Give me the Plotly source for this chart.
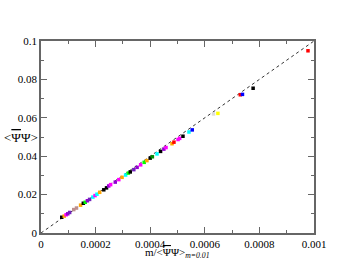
import plotly.graph_objects as go

# data (x in units of 1e-4, y in units of 1e-2)
x_e4 = [0.76, 0.85, 0.92, 0.98, 1.05, 1.20, 1.30, 1.45, 1.55, 1.62, 1.70, 1.78, 1.90, 1.98,
        2.05, 2.15, 2.30, 2.40, 2.48, 2.55, 2.72, 2.85, 2.97, 3.10, 3.20, 3.27, 3.40, 3.52,
        3.65, 3.78, 3.88, 4.00, 4.08, 4.25, 4.38, 4.50, 4.58, 4.80, 4.87, 5.02, 5.08, 5.20,
        5.42, 5.54, 6.32, 6.48, 7.30, 7.38, 7.77, 9.78]
y_e2 = [0.82, 0.88, 0.95, 1.00, 1.07, 1.22, 1.30, 1.45, 1.55, 1.60, 1.68, 1.75, 1.87, 1.95,
        2.02, 2.12, 2.25, 2.35, 2.45, 2.52, 2.65, 2.78, 2.90, 3.02, 3.12, 3.18, 3.30, 3.42,
        3.55, 3.68, 3.77, 3.90, 3.97, 4.12, 4.25, 4.37, 4.45, 4.65, 4.73, 4.87, 4.93, 5.04,
        5.26, 5.37, 6.20, 6.23, 7.20, 7.22, 7.54, 9.49]
point_colors = ["black", "orange", "magenta", "violet", "indigo", "brown", "brown", "orange",
                "black", "green", "violet", "indigo", "cyan", "magenta", "cyan", "orange",
                "black", "black", "violet", "magenta", "violet", "magenta", "orange", "cyan",
                "green", "black", "indigo", "violet", "magenta", "green", "orange", "black",
                "green4", "cyan", "black", "violet", "magenta", "orange", "red", "magenta",
                "magenta", "black", "cyan", "blue", "grey", "yellow", "red", "blue", "black", "red"]
ref_line_x = [0.0, 0.001]
ref_line_y = [0.0, 0.1]

palette = {"black": "#000000", "red": "#ff0000", "green": "#00ff00", "blue": "#0000ff",
           "yellow": "#ffff00", "brown": "#bc8f8f", "grey": "#dcdcdc", "violet": "#9400d3",
           "cyan": "#00ffff", "magenta": "#ff00ff", "orange": "#ffa500", "indigo": "#7221bc",
           "green4": "#008b00"}

xs = [v * 1e-4 for v in x_e4]
ys = [v * 1e-2 for v in y_e2]
cols = [palette[c] for c in point_colors]

fig = go.Figure()
fig.add_trace(go.Scatter(x=ref_line_x, y=ref_line_y, mode="lines",
                         line=dict(color="#333333", width=1, dash="dot"),
                         hoverinfo="skip", showlegend=False))
fig.add_trace(go.Scatter(x=xs, y=ys, mode="markers",
                         marker=dict(symbol="square", size=3.5, color=cols, line=dict(width=0)),
                         showlegend=False))

serif = "Liberation Serif, Times New Roman, serif"
font = dict(family=serif, size=11, color="#000000")
axis_common = dict(showline=True, linecolor="#666666", linewidth=1.5, mirror="ticks",
                   ticks="inside", ticklen=6, tickwidth=1, tickcolor="#666666",
                   showgrid=False, zeroline=False, tickfont=font, automargin=False)

psi_bar = "<span style='text-decoration:overline'>Ψ</span>Ψ"

fig.update_xaxes(range=[0, 0.001], tickvals=[0, 0.0002, 0.0004, 0.0006, 0.0008, 0.001],
                 ticktext=["0", "0.0002", "0.0004", "0.0006", "0.0008", "0.001"],
                 minor=dict(ticks="inside", ticklen=3, tickcolor="#666666",
                            tickvals=[0.0001, 0.0003, 0.0005, 0.0007, 0.0009]),
                 **axis_common)
fig.update_yaxes(range=[0, 0.1], tickvals=[0, 0.02, 0.04, 0.06, 0.08, 0.1],
                 ticktext=["0", "0.02", "0.04", "0.06", "0.08", "0.1"],
                 minor=dict(ticks="inside", ticklen=3, tickcolor="#666666",
                            tickvals=[0.01, 0.03, 0.05, 0.07, 0.09]),
                 **axis_common)

fig.add_annotation(text="m/<" + psi_bar + "><sub><i>m=0.01</i></sub>",
                   xref="paper", yref="paper", x=0.5, y=-0.055,
                   xanchor="center", yanchor="top", showarrow=False, font=font)
fig.add_annotation(text="<" + psi_bar + ">", xref="paper", yref="paper", x=-0.003, y=0.5,
                   xanchor="right", yanchor="middle", showarrow=False,
                   font=dict(family=serif, size=13, color="#000000"))

fig.update_layout(width=354, height=274, margin=dict(l=41, r=40, t=41, b=41),
                  plot_bgcolor="white", paper_bgcolor="white", font=font)

fig.write_html("out.html", post_script="document.body.style.margin='0';",
               config={"displayModeBar": False})
